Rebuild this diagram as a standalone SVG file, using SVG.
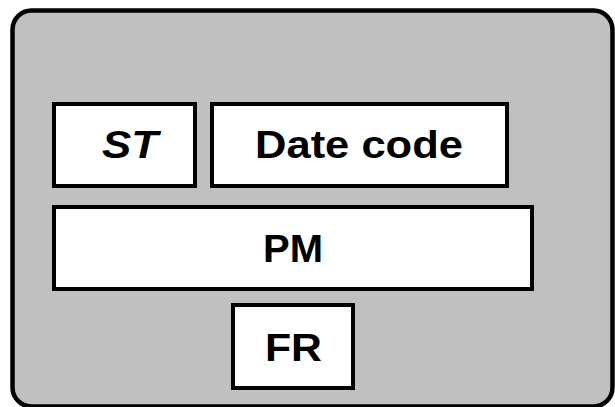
<svg xmlns="http://www.w3.org/2000/svg" width="615" height="407" viewBox="0 0 615 407">
<style>
.box{fill:#fff;stroke:#000;stroke-width:4}
.lbl{font-family:"Liberation Sans",Arial,sans-serif;font-weight:bold;font-size:38px;fill:#000}
</style>
<rect x="12.5" y="10.5" width="600" height="396" rx="19" fill="#c0c0c0" stroke="#000" stroke-width="4.5"/>
<g id="st"><rect class="box" x="54" y="104" width="141" height="82"/><text class="lbl" x="102" y="158" font-style="italic" textLength="56" lengthAdjust="spacingAndGlyphs">ST</text></g>
<g id="datecode"><rect class="box" x="212" y="104" width="295" height="82"/><text class="lbl" x="255" y="158" textLength="208" lengthAdjust="spacingAndGlyphs">Date code</text></g>
<g id="pm"><rect class="box" x="54" y="207" width="478" height="82"/><text class="lbl" x="263" y="262" textLength="60" lengthAdjust="spacingAndGlyphs">PM</text></g>
<g id="fr"><rect class="box" x="233" y="305" width="120" height="83"/><text class="lbl" x="265" y="361" textLength="57" lengthAdjust="spacingAndGlyphs">FR</text></g>
<g id="connectors"/>
</svg>
